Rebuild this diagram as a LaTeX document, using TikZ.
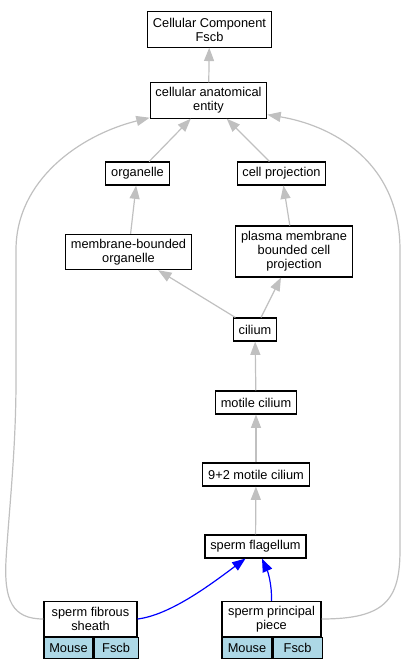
\documentclass[tikz,border=0pt]{standalone}
\usepackage{fontspec}
\setmainfont{Liberation Sans}
\usetikzlibrary{arrows.meta,positioning}
\definecolor{EdgeGray}{HTML}{C0C0C0}
\definecolor{EdgeBlue}{HTML}{0000FF}
\definecolor{TaxonBlue}{HTML}{ADD8E6}

\begin{document}
\begin{tikzpicture}[
    x=0.75pt, y=-0.75pt,
    every node/.style={font=\fontsize{9.6}{10.5}\selectfont},
    term/.style={draw, line width=0.8pt, fill=white, align=center,
      inner xsep=4pt, inner ysep=1pt, minimum height=17.25pt},
    term2/.style={term, minimum height=26.5pt},
    term3/.style={term, minimum height=38.25pt},
    cell/.style={draw, line width=0.8pt, fill=TaxonBlue, inner sep=0pt,
      minimum height=15.75pt, anchor=north west},
    isa/.style={-{Triangle[length=10pt, width=7.5pt]}, line width=0.9pt, color=EdgeGray},
    partof/.style={-{Triangle[length=10pt, width=7.5pt]}, line width=0.9pt, color=EdgeBlue}
  ]
    \useasboundingbox (0,0) rectangle (406,669);
    % ontology terms
    \node[term2] (root) at (209.5,29.5) {Cellular Component\\Fscb};
    \node[term2] (entity) at (208.5,100.5) {cellular anatomical\\entity};
    \node[term] (organelle) at (137.5,173.5) {organelle};
    \node[term] (cellproj) at (281.5,173.5) {cell projection};
    \node[term2] (mbo) at (128.5,252) {membrane-bounded\\organelle};
    \node[term3] (pmbcp) at (294,251.5) {plasma membrane\\bounded cell\\projection};
    \node[term] (cilium) at (255,329.5) {cilium};
    \node[term] (motile) at (256,402.5) {motile cilium};
    \node[term] (ninetwo) at (256,474.5) {9+2 motile cilium};
    \node[term] (flagellum) at (255.5,546.5) {sperm flagellum};
    % annotated terms with taxon rows
    \node[term2, minimum width=69.75pt] (sheath) at (90.5,619) {sperm fibrous\\sheath};
    \node[cell, minimum width=36.75pt] (sheathmouse) at (sheath.south west) {Mouse};
    \node[cell, minimum width=33pt] (sheathfscb) at (sheathmouse.north east) {Fscb};
    \node[term2, minimum width=74.25pt] (principal) at (271.5,619) {sperm principal\\piece};
    \node[cell, minimum width=37.5pt] (principalmouse) at (principal.south west) {Mouse};
    \node[cell, minimum width=36.75pt] (principalfscb) at (principalmouse.north east) {Fscb};
    % is_a edges
    \draw[isa] (entity) -- (root);
    \draw[isa] (organelle) -- (entity);
    \draw[isa] (cellproj) -- (entity);
    \draw[isa] (mbo) -- (organelle);
    \draw[isa] (pmbcp) -- (cellproj);
    \draw[isa] (cilium) -- (mbo);
    \draw[isa] (cilium) -- (pmbcp);
    \draw[isa] (motile) -- (cilium);
    \draw[isa] (ninetwo) -- (motile);
    \draw[isa] (flagellum) -- (ninetwo);
    \draw[isa] (sheath.west) .. controls (12,619) and (4,600) .. (6,560)
      .. controls (9,510) and (16,450) .. (16,380) -- (16,250)
      .. controls (16,180) and (80,135) .. ([yshift=0.75pt]entity.south west);
    \draw[isa] (principal.east) .. controls (385,619) and (400,600) .. (400,550)
      -- (400,250) .. controls (400,160) and (330,125) .. ([yshift=3pt]entity.south east);
    % part_of edges
    \draw[partof] (sheath.east) .. controls (170,615) and (210,585) .. ([xshift=-7.5pt]flagellum.south);
    \draw[partof] (principal.north) .. controls (272,585) and (268,572) .. ([xshift=4.9pt]flagellum.south);
  \end{tikzpicture}
\end{document}
